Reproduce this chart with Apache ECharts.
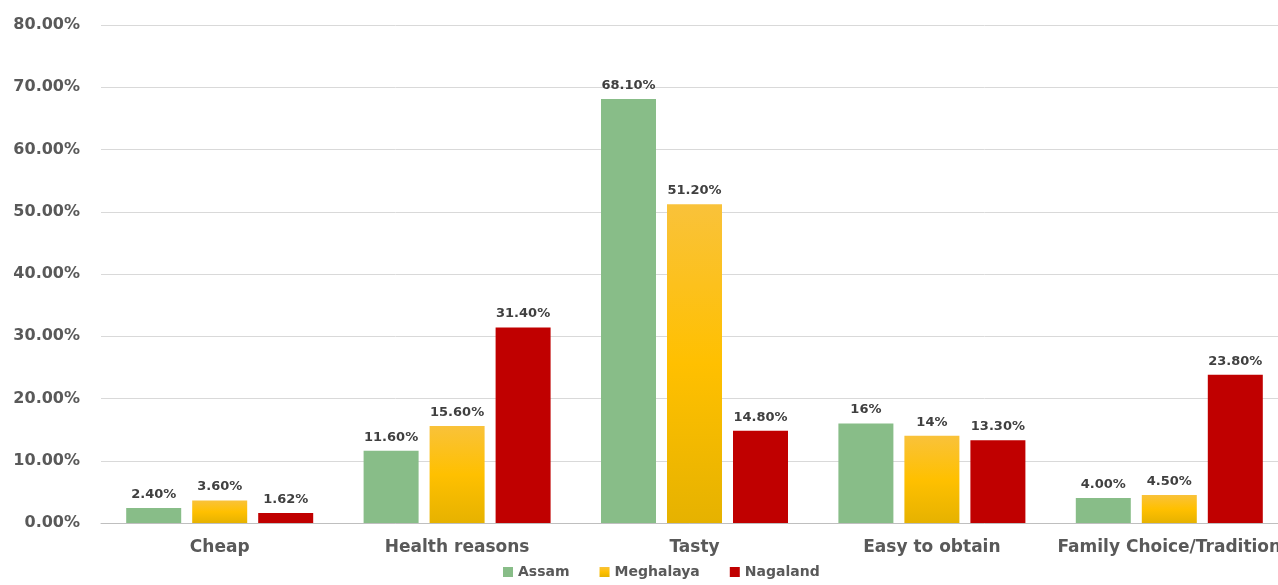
<!DOCTYPE html>
<html>
<head>
<meta charset="utf-8">
<script src="https://cdn.jsdelivr.net/npm/echarts@6/dist/echarts.min.js"></script>
<style>
  html, body { margin: 0; padding: 0; background: #fff; }
  #chart { width: 1278px; height: 585px; }
</style>
</head>
<body>
<div id="chart"></div>
<script>
// reasons for choosing
const categories = ['Cheap', 'Health reasons', 'Tasty', 'Easy to obtain', 'Family Choice/Tradition']
const assam = [2.4, 11.6, 68.1, 16, 4.0]
const meghalaya = [3.6, 15.6, 51.2, 14, 4.5]
const nagaland = [1.62, 31.4, 14.8, 13.3, 23.8]
// label text as printed on the chart
const assamLabels = ['2.40%', '11.60%', '68.10%', '16%', '4.00%']
const meghalayaLabels = ['3.60%', '15.60%', '51.20%', '14%', '4.50%']
const nagalandLabels = ['1.62%', '31.40%', '14.80%', '13.30%', '23.80%']
const yTicks = [0, 10, 20, 30, 40, 50, 60, 70, 80]

const textColor = '#595959'
const font = 'DejaVu Sans'

const makeSeries = (name, data, labels, color) => ({
  name,
  type: 'bar',
  data,
  barWidth: 55,
  barGap: '20%',
  itemStyle: { color },
  label: {
    show: true,
    position: 'top',
    distance: 7,
    color: '#404040',
    fontFamily: font,
    fontWeight: 'bold',
    fontSize: 13,
    formatter: (p) => labels[p.dataIndex],
  },
})

const option = {
  animation: false,
  // plot runs a little past the right edge, so the last label gets cut like in the original
  grid: { left: 101, top: 25, bottom: 62, right: -10, outerBoundsMode: 'none' },
  legend: {
    bottom: 1,
    left: 498,
    itemWidth: 10,
    itemHeight: 10,
    itemGap: 30,
    icon: 'rect',
    textStyle: { color: textColor, fontFamily: font, fontWeight: 'bold', fontSize: 14 },
  },
  xAxis: {
    type: 'category',
    data: categories,
    axisTick: { show: false },
    axisLine: { lineStyle: { color: '#bfbfbf' } },
    axisLabel: { color: textColor, fontFamily: font, fontWeight: 'bold', fontSize: 17, margin: 16, interval: 0 },
  },
  yAxis: {
    type: 'value',
    min: yTicks[0],
    max: yTicks[yTicks.length - 1],
    interval: 10,
    axisLine: { show: false },
    axisTick: { show: false },
    splitLine: { lineStyle: { color: '#d9d9d9' } },
    axisLabel: {
      color: textColor, fontFamily: font, fontWeight: 'bold', fontSize: 16, margin: 21,
      formatter: (v) => v.toFixed(2) + '%',
    },
  },
  series: [
    makeSeries('Assam', assam, assamLabels, '#88bd88'),
    makeSeries('Meghalaya', meghalaya, meghalayaLabels, new echarts.graphic.LinearGradient(0, 0, 0, 1, [
      { offset: 0, color: '#f9c23a' },
      { offset: 0.5, color: '#ffc000' },
      { offset: 1, color: '#e6b200' },
    ])),
    makeSeries('Nagaland', nagaland, nagalandLabels, '#c00000'),
  ],
}

const chart = echarts.init(document.getElementById('chart'))
chart.setOption(option)
</script>
</body>
</html>
